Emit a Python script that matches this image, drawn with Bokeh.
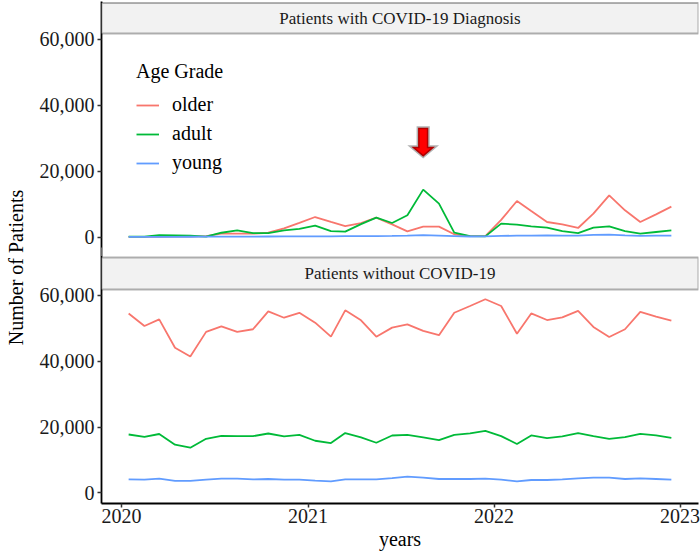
from datetime import datetime
from bokeh.plotting import figure
from bokeh.models import (Range1d, FixedTicker, CustomJSTickFormatter, DatetimeTickFormatter,
                          BoxAnnotation, Label, PolyAnnotation, Legend, LegendItem)
from bokeh.embed import file_html
from bokeh.resources import INLINE

# ---------------- data ----------------
months = [datetime(2020 + k // 12, k % 12 + 1, 15) for k in range(36)]
year_ticks = [datetime(2020, 1, 1), datetime(2021, 1, 1), datetime(2022, 1, 1), datetime(2023, 1, 1)]
y_ticks = [0, 20000, 40000, 60000]

groups = ["older", "adult", "young"]
colors = ["#F8766D", "#00BA38", "#619CFF"]

older_covid = [30, 40, 60, 100, 150, 300, 1000, 1000, 1000, 1300, 2600, 4300,
               6070, 4570, 3340, 4250, 5880, 3850, 1730, 3150, 3150, 820, 300, 300,
               5200, 10930, 7900, 4560, 3850, 2740, 7100, 12660, 8100, 4560, 6890, 9230]
adult_covid = [100, 100, 550, 500, 450, 100, 1300, 2000, 1200, 1200, 2000, 2500,
               3450, 1800, 1650, 3900, 5900, 4250, 6590, 14380, 10130, 1330, 300, 200,
               4060, 3760, 3250, 2850, 1820, 1210, 2850, 3250, 1820, 1010, 1520, 2030]
young_covid = [40, 50, 60, 70, 80, 100, 120, 130, 140, 160, 180, 200,
               220, 210, 250, 280, 300, 330, 400, 550, 450, 300, 150, 200,
               350, 400, 450, 500, 450, 400, 650, 750, 500, 350, 400, 450]

older_non = [54500, 50700, 52700, 44100, 41400, 48900, 50600, 48900, 49700, 55150, 53200, 54700,
             51700, 47450, 55450, 52400, 47450, 50200, 51200, 49200, 47900, 54700, 56750, 58800,
             56750, 48350, 54500, 52500, 53300, 55300, 50400, 47350, 49700, 55000, 53500, 52300]
adult_non = [17750, 17050, 17900, 14650, 13750, 16450, 17350, 17250, 17250, 18050, 17150, 17650,
             15850, 15150, 18200, 16850, 15250, 17450, 17650, 16850, 16050, 17650, 18100, 18850,
             17250, 14850, 17450, 16650, 17150, 18200, 17250, 16450, 16950, 17950, 17450, 16750]
young_non = [4120, 4030, 4330, 3640, 3640, 4030, 4330, 4330, 4120, 4240, 4030, 4030,
             3730, 3520, 4120, 4120, 4120, 4480, 4940, 4680, 4240, 4240, 4240, 4330,
             4030, 3520, 3940, 3940, 4120, 4420, 4640, 4640, 4240, 4420, 4240, 4030]

covid_series = [older_covid, adult_covid, young_covid]
non_series = [older_non, adult_non, young_non]

FONT = "Liberation Serif"

# ---------------- layout helpers (value space) ----------------
PANEL_LO, PANEL_HI = -3200, 61800
STRIP, GAP = 9700, 3000
OFFSET = (PANEL_HI - PANEL_LO) + STRIP + GAP
Y_END = OFFSET + PANEL_HI + STRIP
FRAME_W, FRAME_H = 597, 502

EPOCH = datetime(1970, 1, 1)
def ms(d):
    return (d - EPOCH).total_seconds() * 1000.0

xs = [ms(d) for d in months]
span = xs[-1] - xs[0]
x0, x1 = xs[0] - 0.05 * span, xs[-1] + 0.05 * span
xpx = (x1 - x0) / FRAME_W
ypx = (Y_END - PANEL_LO) / FRAME_H

p = figure(x_axis_type="datetime", frame_width=FRAME_W, frame_height=FRAME_H,
           min_border_left=101, min_border_right=2, min_border_top=1, min_border_bottom=50,
           x_range=Range1d(x0, x1), y_range=Range1d(PANEL_LO, Y_END),
           output_backend="svg", toolbar_location=None)
p.extra_y_ranges = {"top": Range1d(PANEL_LO - OFFSET, Y_END - OFFSET)}
p.xgrid.grid_line_color = None
p.ygrid.grid_line_color = None
p.outline_line_color = None
p.background_fill_color = "white"

# strips
top_strip = BoxAnnotation(left=x0, right=x1, bottom=OFFSET + PANEL_HI, top=Y_END - 1.5 * ypx,
                          fill_color="#f2f2f2", fill_alpha=1, line_color="black", line_width=2)
bot_strip = BoxAnnotation(left=x0, right=x1, bottom=PANEL_HI, top=PANEL_HI + STRIP,
                          fill_color="#f2f2f2", fill_alpha=1, line_color="black", line_width=2)
gap_cover = BoxAnnotation(left=x0 - 6 * xpx, right=x0 + 0.3 * xpx,
                          bottom=PANEL_HI + STRIP + 1.5 * ypx, top=OFFSET + PANEL_LO,
                          fill_color="white", fill_alpha=1, line_color=None)
p.add_layout(top_strip)
p.add_layout(bot_strip)
p.add_layout(gap_cover)
for txt, yc in [("Patients with COVID-19 Diagnosis", OFFSET + PANEL_HI + (STRIP - 1.5 * ypx) / 2),
                ("Patients without COVID-19", PANEL_HI + STRIP / 2)]:
    p.add_layout(Label(x=(x0 + x1) / 2, y=yc, text=txt, text_align="center", text_baseline="middle",
                       text_font=FONT, text_font_size="17px", text_color="#1a1a1a"))

# lines
legend_items = []
for g, c, top_vals, bot_vals in zip(groups, colors, covid_series, non_series):
    r = p.line(xs, top_vals, y_range_name="top", line_color=c, line_width=1.8)
    p.line(xs, bot_vals, line_color=c, line_width=1.8)
    legend_items.append(LegendItem(label=g, renderers=[r]))

legend = Legend(items=legend_items, location=(35, 329), title="Age Grade",
                title_text_font=FONT, title_text_font_size="20px", title_text_font_style="normal",
                title_text_color="black", title_standoff=10,
                label_text_font=FONT, label_text_font_size="20px", label_text_color="black",
                glyph_width=23, glyph_height=20, label_standoff=13, spacing=6, padding=10,
                background_fill_alpha=0, border_line_color=None)
p.add_layout(legend)

# arrow at the adult peak
pk = max(range(len(adult_covid)), key=lambda i: adult_covid[i])
ax = xs[pk]
tip = OFFSET + adult_covid[pk] + 33 * ypx
shape = [(0, 0), (-11.8, 10), (-5.1, 10), (-5.1, 29), (5.1, 29), (5.1, 10), (11.8, 10)]
p.add_layout(PolyAnnotation(xs=[ax + dx * xpx for dx, dy in shape],
                            ys=[tip + dy * ypx for dx, dy in shape],
                            fill_color="#ff0000", fill_alpha=1, line_color="black",
                            line_width=3, line_join="miter"))

# axes
p.yaxis.ticker = FixedTicker(ticks=y_ticks + [OFFSET + t for t in y_ticks])
p.yaxis.formatter = CustomJSTickFormatter(args=dict(off=OFFSET, lo=PANEL_LO), code="""
    var v = tick >= off + lo ? tick - off : tick;
    return String(Math.round(v)).replace(/\\B(?=(\\d{3})+(?!\\d))/g, ",");
""")
p.xaxis.ticker = FixedTicker(ticks=[ms(d) for d in year_ticks])
p.xaxis.formatter = DatetimeTickFormatter(years="%Y", months="%Y", days="%Y", hours="%Y",
                                          minutes="%Y", seconds="%Y", milliseconds="%Y")
for axis in (p.xaxis[0], p.yaxis[0]):
    axis.axis_line_color = "black"
    axis.axis_line_width = 1.8
    axis.major_tick_line_color = "#333333"
    axis.major_tick_line_width = 1.5
    axis.major_tick_out = 4
    axis.major_tick_in = 0
    axis.minor_tick_out = 0
    axis.minor_tick_in = 0
    axis.major_label_text_font = FONT
    axis.major_label_text_font_size = "20px"
    axis.major_label_text_color = "#1a1a1a"
    axis.axis_label_text_font = FONT
    axis.axis_label_text_font_size = "20px"
    axis.axis_label_text_font_style = "normal"
    axis.axis_label_text_color = "black"
p.yaxis.major_label_standoff = 3
p.xaxis.major_label_standoff = 1
p.xaxis.axis_label = "years"
p.xaxis.axis_label_standoff = 2

# y axis title: trailing no-break spaces move it down onto the centre of the two panels
p.yaxis.axis_label = "Number of Patients" + "\u00a0" * 6
p.yaxis.axis_label_standoff = 10

open("out.html", "w").write(file_html(p, INLINE))
